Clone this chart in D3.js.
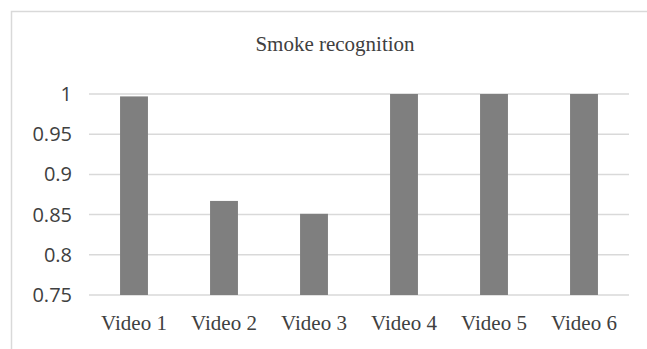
<html>
  <head>
    <meta charset="utf-8" />
    <title>Smoke recognition</title>
    <script src="https://d3js.org/d3.v7.min.js"></script>
    <style>
      body { margin: 0; background: #fff; }
    </style>
  </head>
  <body>
    <div id="figure"></div>
    <script type="text/javascript">
      var categories = ["Video 1", "Video 2", "Video 3", "Video 4", "Video 5", "Video 6"];
      var values = [0.997, 0.867, 0.851, 1, 1, 1];
      var yTicks = [0.75, 0.8, 0.85, 0.9, 0.95, 1];

      var width = 647;
      var height = 349;
      var margin = { top: 94, right: 18, bottom: 54, left: 89 };

      var svg = d3
        .select("#figure")
        .append("svg")
        .attr("width", width)
        .attr("height", height);

      // chart frame
      svg
        .append("rect")
        .attr("x", 11.5)
        .attr("y", 11.5)
        .attr("width", 660)
        .attr("height", 360)
        .attr("fill", "none")
        .attr("stroke", "#d9d9d9")
        .attr("stroke-width", 1.5);

      var x = d3
        .scaleBand()
        .domain(categories)
        .range([margin.left, width - margin.right])
        .paddingInner(0.69)
        .paddingOuter(0.345);

      var y = d3
        .scaleLinear()
        .domain([0.75, 1])
        .range([height - margin.bottom, margin.top]);

      // gridlines
      svg
        .append("g")
        .selectAll("line")
        .data(yTicks)
        .enter()
        .append("line")
        .attr("x1", margin.left)
        .attr("x2", width - margin.right)
        .attr("y1", function (d) { return y(d); })
        .attr("y2", function (d) { return y(d); })
        .attr("stroke", "#d9d9d9")
        .attr("stroke-width", 1.5);

      // bars
      svg
        .append("g")
        .selectAll("rect")
        .data(values)
        .enter()
        .append("rect")
        .attr("x", function (d, i) { return x(categories[i]); })
        .attr("width", x.bandwidth())
        .attr("y", function (d) { return y(d); })
        .attr("height", function (d) { return y(0.75) - y(d); })
        .attr("fill", "#7f7f7f");

      // y axis labels
      var yAxis = d3
        .axisLeft(y)
        .tickValues(yTicks)
        .tickSize(0)
        .tickPadding(17)
        .tickFormat(function (d) { return String(d); });

      var gy = svg
        .append("g")
        .attr("transform", "translate(" + margin.left + ",0)")
        .call(yAxis);
      gy.select(".domain").remove();
      gy.selectAll("text")
        .attr("fill", "#404040")
        .style("font-family", "'Open Sans', sans-serif")
        .style("font-size", "20px");

      // x axis labels
      var xAxis = d3.axisBottom(x).tickSize(0).tickPadding(20);
      var gx = svg
        .append("g")
        .attr("transform", "translate(0," + (height - margin.bottom) + ")")
        .call(xAxis);
      gx.select(".domain").remove();
      gx.selectAll("text")
        .attr("fill", "#404040")
        .style("font-family", "'Liberation Serif', 'Times New Roman', serif")
        .style("font-size", "21px");

      // title
      svg
        .append("text")
        .attr("x", 335)
        .attr("y", 51)
        .attr("text-anchor", "middle")
        .attr("fill", "#404040")
        .style("font-family", "'Liberation Serif', 'Times New Roman', serif")
        .style("font-size", "21px")
        .text("Smoke recognition");
    </script>
  </body>
</html>
